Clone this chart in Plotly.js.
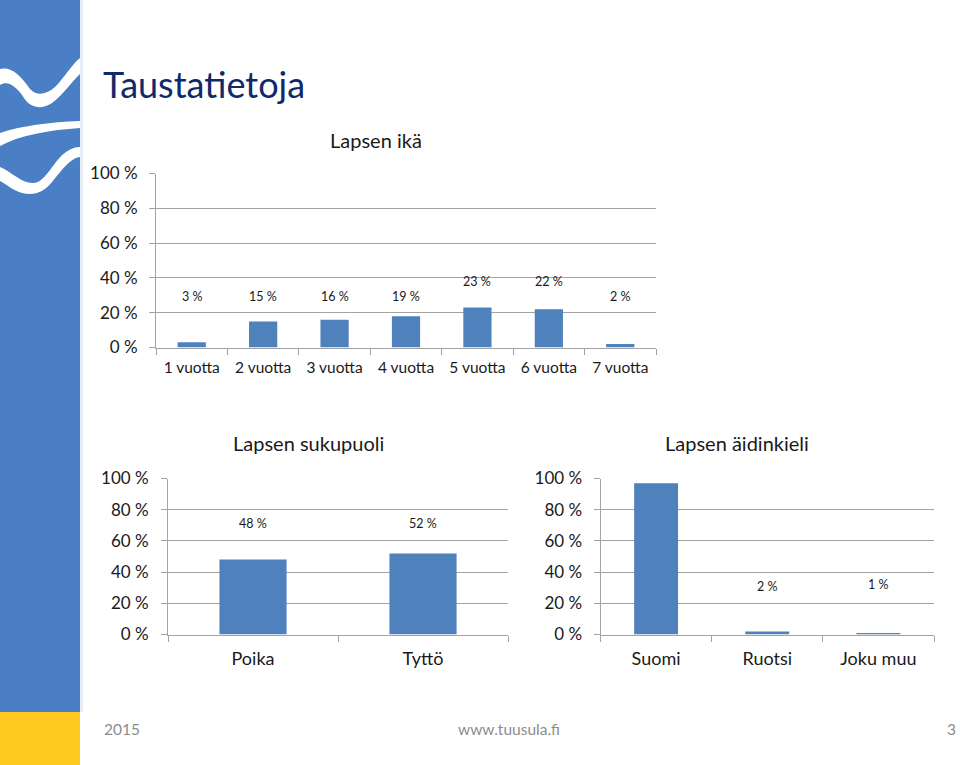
<!DOCTYPE html>
<html>
<head>
<meta charset="utf-8">
<script src="https://cdn.plot.ly/plotly-3.0.1.min.js"></script>
<style>
  html, body { margin: 0; padding: 0; background: #fff; }
  #slide { width: 960px; height: 765px; }
</style>
</head>
<body>
<div id="slide"></div>
<script>
// Lapsen ikä
var ageCats = ['1 vuotta', '2 vuotta', '3 vuotta', '4 vuotta', '5 vuotta', '6 vuotta', '7 vuotta'];
var ageVals = [3, 15, 16, 18, 23, 22, 2];
var ageText = ['3 %', '15 %', '16 %', '19 %', '23 %', '22 %', '2 %'];

// Lapsen sukupuoli
var sexCats = ['Poika', 'Tyttö'];
var sexVals = [48, 52];
var sexText = ['48 %', '52 %'];

// Lapsen äidinkieli
var langCats = ['Suomi', 'Ruotsi', 'Joku muu'];
var langVals = [97, 2, 1];
var langText = ['97 %', '2 %', '1 %'];

var pctTicks = [0, 20, 40, 60, 80, 100];
var pctTickText = ['0 %', '20 %', '40 %', '60 %', '80 %', '100 %'];

// where the excel data labels sit (in axis %), they float oddly in the original
var ageLabelY = [29.2, 29.2, 29.2, 29.2, 38.2, 37.7, 29.2];
var sexLabelY = [71.3, 71.3];
var langLabelY = [107.8, 30.7, 32.2];

var W = 960, H = 765;
var barColor = '#4f81bd';
var gridColor = '#a3a3a3';
var font = 'Lato, "Open Sans", sans-serif';

// pixel -> paper helpers (margins are 0 so paper = page)
function px(x) { return x / W; }
function py(y) { return 1 - y / H; }
function pt(x, y) { return px(x) + ',' + py(y); }

function yAxis(dom, anchor, size, standoff) {
  return {
    domain: dom, anchor: anchor, range: [0, 100],
    tickmode: 'array', tickvals: pctTicks, ticktext: pctTickText,
    showgrid: true, gridcolor: gridColor, gridwidth: 1,
    showline: true, linecolor: gridColor, linewidth: 1,
    zeroline: false,
    ticks: 'outside', ticklen: 6, tickcolor: gridColor,
    ticklabelstandoff: standoff,
    tickfont: {family: font, size: size, color: '#1a1a1a'},
    fixedrange: true
  };
}

function xAxis(dom, anchor, size, standoff) {
  return {
    domain: dom, anchor: anchor, type: 'category',
    showgrid: false, showline: true, linecolor: gridColor, linewidth: 1,
    ticks: 'outside', ticklen: 6, tickcolor: gridColor, tickson: 'boundaries',
    ticklabelstandoff: standoff,
    tickfont: {family: font, size: size, color: '#1a1a1a'},
    fixedrange: true
  };
}

var traces = [
  {type: 'bar', x: ageCats, y: ageVals, xaxis: 'x', yaxis: 'y', marker: {color: barColor}, hoverinfo: 'none'},
  {type: 'bar', x: sexCats, y: sexVals, xaxis: 'x2', yaxis: 'y2', marker: {color: barColor}, hoverinfo: 'none'},
  {type: 'bar', x: langCats, y: langVals, xaxis: 'x3', yaxis: 'y3', marker: {color: barColor}, hoverinfo: 'none'}
];

var annotations = [];
function addLabels(cats, texts, ys, xr, yr) {
  for (var i = 0; i < cats.length; i++) {
    annotations.push({
      x: cats[i], y: ys[i], xref: xr, yref: yr, text: texts[i],
      showarrow: false, xanchor: 'center', yanchor: 'middle',
      font: {family: font, size: 12.5, color: '#1a1a1a'}
    });
  }
}
addLabels(ageCats, ageText, ageLabelY, 'x', 'y');
addLabels(sexCats, sexText, sexLabelY, 'x2', 'y2');
addLabels(langCats, langText, langLabelY, 'x3', 'y3');

function paperText(t, x, y, size, color, anchor) {
  annotations.push({
    text: t, x: px(x), y: py(y), xref: 'paper', yref: 'paper',
    showarrow: false, xanchor: anchor, yanchor: 'middle',
    font: {family: font, size: size, color: color}
  });
}
paperText('Taustatietoja', 101, 84, 36, '#0f2a6a', 'left');
paperText('Lapsen ikä', 376, 140, 20, '#1a1a1a', 'center');
paperText('Lapsen sukupuoli', 308, 443, 20, '#1a1a1a', 'center');
paperText('Lapsen äidinkieli', 737, 443, 20, '#1a1a1a', 'center');
paperText('2015', 102, 729, 15.5, '#8c8c8c', 'left');
paperText('www.tuusula.fi', 509, 729, 15.5, '#8c8c8c', 'center');
paperText('3', 958, 729, 15.5, '#8c8c8c', 'right');

// left band decoration
var shapes = [
  {type: 'rect', xref: 'paper', yref: 'paper', x0: 0, x1: px(80), y0: py(712), y1: 1,
   fillcolor: '#4a7fc5', line: {width: 0}, layer: 'below'},
  {type: 'rect', xref: 'paper', yref: 'paper', x0: 0, x1: px(80), y0: 0, y1: py(712),
   fillcolor: '#ffc91f', line: {width: 0}, layer: 'below'},
  {type: 'rect', xref: 'paper', yref: 'paper', x0: px(80), x1: px(83), y0: py(712), y1: 1,
   fillcolor: '#e6eef8', line: {width: 0}, layer: 'below'},
  {type: 'path', xref: 'paper', yref: 'paper', layer: 'below', fillcolor: '#ffffff', line: {width: 0},
   path: 'M' + pt(0, 69) + ' C' + pt(10, 66) + ' ' + pt(20, 74) + ' ' + pt(30, 89) +
         ' C' + pt(36, 96) + ' ' + pt(46, 95) + ' ' + pt(55, 87) +
         ' C' + pt(65, 77) + ' ' + pt(72, 64) + ' ' + pt(80, 58) +
         ' L' + pt(80, 74) +
         ' C' + pt(72, 81) + ' ' + pt(64, 94) + ' ' + pt(52, 103) +
         ' C' + pt(42, 110) + ' ' + pt(30, 108) + ' ' + pt(24, 98) +
         ' C' + pt(17, 87) + ' ' + pt(8, 80) + ' ' + pt(0, 85) + ' Z'},
  {type: 'path', xref: 'paper', yref: 'paper', layer: 'below', fillcolor: '#ffffff', line: {width: 0},
   path: 'M' + pt(0, 133) + ' C' + pt(20, 126) + ' ' + pt(50, 122) + ' ' + pt(80, 121) +
         ' L' + pt(80, 128) +
         ' C' + pt(50, 130) + ' ' + pt(20, 135) + ' ' + pt(0, 146) + ' Z'},
  {type: 'path', xref: 'paper', yref: 'paper', layer: 'below', fillcolor: '#ffffff', line: {width: 0},
   path: 'M' + pt(0, 167) + ' C' + pt(12, 172) + ' ' + pt(22, 184) + ' ' + pt(34, 183) +
         ' C' + pt(46, 182) + ' ' + pt(54, 160) + ' ' + pt(66, 152) +
         ' C' + pt(72, 148) + ' ' + pt(76, 147) + ' ' + pt(80, 147) +
         ' L' + pt(80, 157) +
         ' C' + pt(70, 158) + ' ' + pt(62, 170) + ' ' + pt(52, 182) +
         ' C' + pt(44, 192) + ' ' + pt(34, 196) + ' ' + pt(22, 193) +
         ' C' + pt(12, 190) + ' ' + pt(6, 184) + ' ' + pt(0, 181) + ' Z'}
];

var layout = {
  width: W, height: H,
  margin: {l: 0, r: 0, t: 0, b: 0},
  paper_bgcolor: '#ffffff', plot_bgcolor: 'rgba(0,0,0,0)',
  showlegend: false, bargap: 0.605,
  xaxis: xAxis([px(156), px(656)], 'y', 15.5, 6),
  yaxis: yAxis([py(347.5), py(173.5)], 'x', 17, 8),
  xaxis2: xAxis([px(168), px(508)], 'y2', 18, 8),
  yaxis2: yAxis([py(634.5), py(478.5)], 'x2', 17, 9),
  xaxis3: xAxis([px(600.5), px(934)], 'y3', 18, 8),
  yaxis3: yAxis([py(634.5), py(478.5)], 'x3', 17, 8),
  annotations: annotations,
  shapes: shapes
};

Plotly.newPlot('slide', traces, layout, {staticPlot: true});
</script>
</body>
</html>
